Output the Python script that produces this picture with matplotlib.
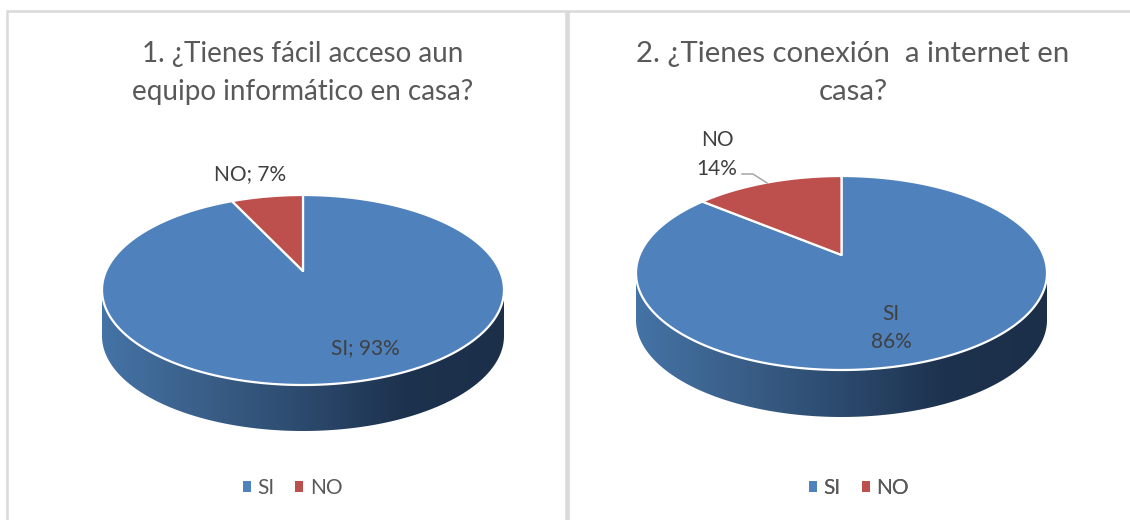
import numpy as np
import matplotlib
matplotlib.use("Agg")
import matplotlib.pyplot as plt
from matplotlib.colors import LinearSegmentedColormap
from matplotlib.patches import Patch, Polygon, Rectangle

plt.rcParams['font.family'] = ['Lato', 'DejaVu Sans']

categorias = ['SI', 'NO']
valores_1 = [93, 7]
valores_2 = [86, 14]
titulo_1 = ['1. ¿Tienes fácil acceso aun', 'equipo informático en casa?']
titulo_2 = ['2. ¿Tienes conexión  a internet en', 'casa?']

AZUL = '#4f81bd'
ROJO = '#bd4f4c'
colores = [AZUL, ROJO]
lado = LinearSegmentedColormap.from_list('lado', ['#4473a6', '#3a5f88', '#2c4a6e', '#1d324e', '#1c2f49'])


def proyectar(ang, cx, cy, rx, ry, b):
    # circulo unitario -> elipse, con el vertice desplazado por la perspectiva
    x = np.sin(ang)
    y = np.cos(ang)
    den = 1 + b * y
    u = x * np.sqrt(1 - b ** 2) / den
    v = (y + b) / den
    return np.column_stack([cx + rx * u, cy - ry * v])


def pastel(ax, valores, cx, cy, rx, ry, alto, b):
    # lateral con degradado
    t = np.linspace(np.pi, 0, 200)
    arco = np.column_stack([cx + rx * np.cos(t), cy + ry * np.sin(t)])
    borde = np.vstack([arco, (arco + [0, alto])[::-1]])
    clip = Polygon(borde, closed=True, transform=ax.transData, fc='none', ec='none')
    ax.add_patch(clip)
    grad = np.linspace(0, 1, 256).reshape(1, -1)
    im = ax.imshow(grad, cmap=lado, extent=(cx - rx, cx + rx, cy + ry + alto, cy - 5),
                   aspect='auto', zorder=2)
    im.set_clip_path(clip)

    # porciones superiores
    fin = np.cumsum(valores) / np.sum(valores) * 2 * np.pi
    ini = np.r_[0, fin[:-1]]
    vertice = np.array([[cx, cy - ry * b]])
    for a0, a1, c in zip(ini, fin, colores):
        arco_p = proyectar(np.linspace(a0, a1, 300), cx, cy, rx, ry, b)
        ax.add_patch(Polygon(np.vstack([vertice, arco_p]), closed=True, fc=c, ec='white',
                             lw=1.6, joinstyle='round', zorder=3))


def leyenda(ax, x, y):
    h = [Patch(fc=c, ec='none') for c in colores]
    leg = ax.legend(h, categorias, ncol=2, loc='center', bbox_to_anchor=(x, y),
                    bbox_transform=ax.transData, frameon=False, fontsize=15,
                    handlelength=0.38, handleheight=0.38, handletextpad=0.32,
                    columnspacing=1.0, labelcolor='#595959')
    ax.add_artist(leg)


fig = plt.figure(figsize=(11.3, 5.2), dpi=100)
ax = fig.add_axes([0, 0, 1, 1])
ax.set_xlim(0, 1130)
ax.set_ylim(520, 0)
ax.axis('off')

# marcos de los dos graficos
ax.add_patch(Rectangle((7, 11), 559, 520, fc='white', ec='#d9d9d9', lw=1.8))
ax.add_patch(Rectangle((568, 11), 580, 520, fc='white', ec='#d9d9d9', lw=1.8))

pastel(ax, valores_1, 303, 290, 201, 95, 46, 0.2)
pastel(ax, valores_2, 841.5, 273, 205.5, 97, 47, 0.186)
ax.set_xlim(0, 1130)
ax.set_ylim(520, 0)

tit = dict(ha='center', va='center', color='#595959')
ax.text(303, 54, titulo_1[0], fontsize=20, **tit)
ax.text(303, 92, titulo_1[1], fontsize=20, **tit)
ax.text(853, 54, titulo_2[0], fontsize=21.2, **tit)
ax.text(853, 92, titulo_2[1], fontsize=21.2, **tit)

et = dict(ha='center', va='center', fontsize=15, color='#404040', zorder=5)
ax.text(250, 174, f'{categorias[1]}; {valores_1[1]}%', **et)
ax.text(365, 348, f'{categorias[0]}; {valores_1[0]}%', **et)
ax.text(717, 140, categorias[1], **et)
ax.text(717, 169, f'{valores_2[1]}%', **et)
ax.text(891, 314, categorias[0], **et)
ax.text(891, 342, f'{valores_2[0]}%', **et)
ax.plot([742, 753, 767], [174, 174, 183], color='#a6a6a6', lw=1.1, zorder=4)

leyenda(ax, 292.5, 488)
leyenda(ax, 859, 488)

fig.savefig('out.png', dpi=100)
